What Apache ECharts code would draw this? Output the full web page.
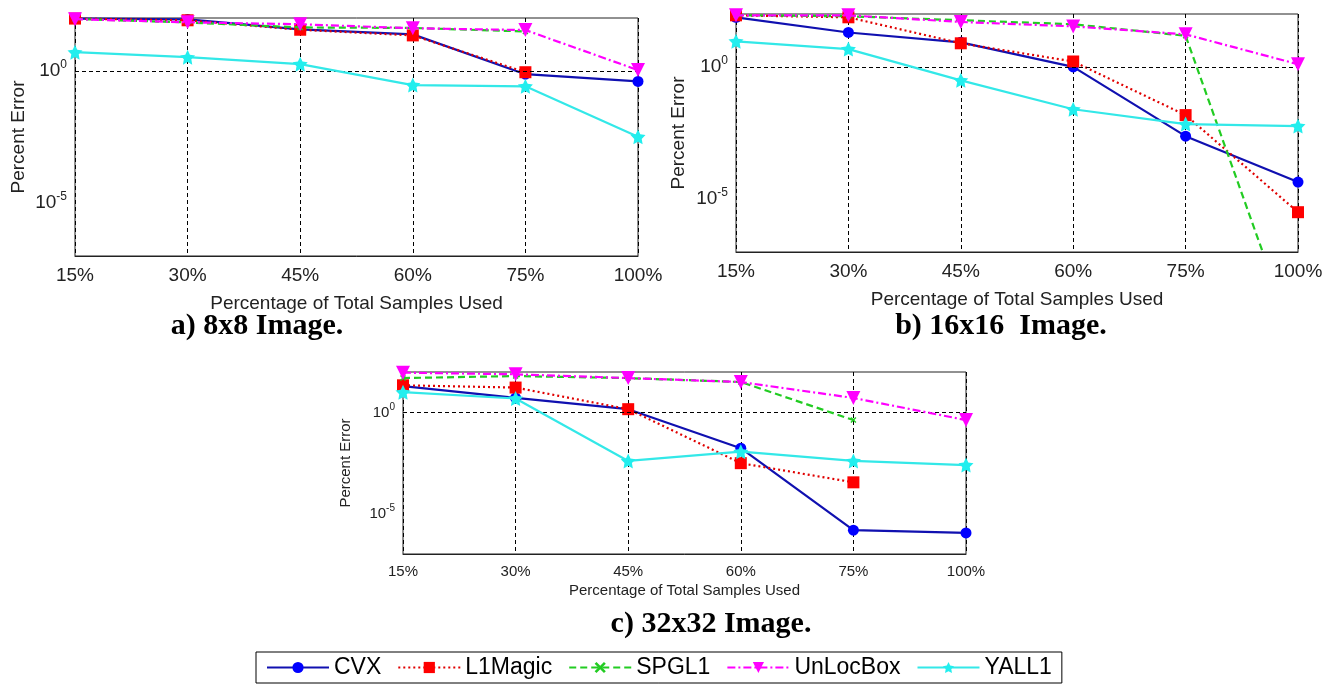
<!DOCTYPE html>
<html>
<head>
<meta charset="utf-8">
<script src="https://cdn.jsdelivr.net/npm/echarts@6/dist/echarts.min.js"></script>
<style>html,body{margin:0;padding:0;background:#fff;}#c{width:1333px;height:689px;}</style>
</head>
<body>
<div id="c"></div>
<script>
// ---- data ----
var categories = ['15%', '30%', '45%', '60%', '75%', '100%'];
var seriesNames = ['CVX', 'L1Magic', 'SPGL1', 'UnLocBox', 'YALL1'];
var panelTitles = ['a) 8x8 Image.', 'b) 16x16  Image.', 'c) 32x32 Image.'];
var xAxisName = 'Percentage of Total Samples Used';
var yAxisName = 'Percent Error';
var yTickExponents = [0, -5];

// panel a (8x8)
var cvxA   = [95, 88, 37, 24, 0.75, 0.40];
var l1A    = [95, 82, 36, 22, 0.89, null];
var spglA  = [92, 68, 44, 42, 31, null];
var unlocA = [90, 69, 58, 41, 35, 1.07];
var yallA  = [5.1, 3.3, 1.8, 0.29, 0.26, 0.0032];
// panel b (16x16)
var cvxB   = [75, 20, 8.5, 1.0, 0.0024, 4.4e-5];
var l1B    = [89, 75, 7.8, 1.6, 0.015, 3.2e-6];
var spglB  = [90, 82, 58, 41, 15, 1.8e-11];
var unlocB = [89, 89, 50, 34, 17, 1.26];
var yallB  = [9.3, 4.7, 0.31, 0.025, 0.0069, 0.0058];
// panel c (32x32)
var cvxC   = [20, 5.2, 1.45, 0.017, 1.5e-6, 1.1e-6];
var l1C    = [22, 17, 1.45, 0.0031, 3.5e-4, null];
var spglC  = [50, 63, 50, 32, 0.42, null];
var unlocC = [93, 77, 50, 32, 5.2, 0.42];
var yallC  = [10, 4.9, 0.004, 0.0115, 0.004, 0.0025];

var panelData = [
  [cvxA, l1A, spglA, unlocA, yallA],
  [cvxB, l1B, spglB, unlocB, yallB],
  [cvxC, l1C, spglC, unlocC, yallC]
];

// ---- styles ----
var STAR = 'path://M0,-10 L2.9,-4 L9.5,-3.1 L4.7,1.5 L5.9,8.1 L0,5 L-5.9,8.1 L-4.7,1.5 L-9.5,-3.1 L-2.9,-4 Z';
var XMARK = 'path://M-3,-2 L-2,-3 L0,-1 L2,-3 L3,-2 L1,0 L3,2 L2,3 L0,1 L-2,3 L-3,2 L-1,0 Z';
var styles = [
  {line: '#1010b0', mark: '#0000ff', type: 'solid', symbol: 'circle', size: 11, rot: 0},
  {line: '#e00000', mark: '#ff0000', type: [2, 3], symbol: 'rect', size: 12, rot: 0},
  {line: '#22cc22', mark: '#22cc22', type: [7, 4], symbol: XMARK, size: 6, rot: 0},
  {line: '#ff00ff', mark: '#ff00ff', type: [8, 3, 2, 3], symbol: 'triangle', size: 14, rot: 180},
  {line: '#33e8e8', mark: '#22eeee', type: 'solid', symbol: STAR, size: 15, rot: 0}
];

var grids = [
  {left: 75, top: 18, width: 563, height: 238},
  {left: 736, top: 14, width: 562, height: 238},
  {left: 403, top: 372, width: 563, height: 182}
];
var fonts = [
  {tick: 19, name: 19, sup: 12, gapX: 38, gapY: 47},
  {tick: 19, name: 19, sup: 12, gapX: 38, gapY: 48},
  {tick: 15, name: 15, sup: 10, gapX: 29, gapY: 50}
];

var FF = '"Liberation Sans", Arial, sans-serif';

var option = {
  backgroundColor: '#fff',
  animation: false,
  grid: [], xAxis: [], yAxis: [], series: [],
  title: [
    {text: panelTitles[0], left: 252, top: 306, textAlign: 'center'},
    {text: panelTitles[1], left: 996, top: 306, textAlign: 'center'},
    {text: panelTitles[2], left: 706, top: 604, textAlign: 'center'}
  ].map(function (t) {
    t.textStyle = {fontFamily: '"Liberation Serif", "Times New Roman", serif', fontWeight: 'bold', fontSize: 30, color: '#000'};
    return t;
  }),
  legend: {
    data: seriesNames,
    left: 256, top: 652,
    orient: 'horizontal',
    itemWidth: 62, itemHeight: 14, itemGap: 16,
    padding: [4, 10, 4, 10],
    borderColor: '#000', borderWidth: 1,
    textStyle: {fontFamily: FF, fontSize: 23, color: '#000'}
  }
};

grids.forEach(function (g, gi) {
  var f = fonts[gi];
  option.grid.push({left: g.left, top: g.top, width: g.width, height: g.height, show: true, borderColor: '#222', borderWidth: 1, containLabel: false});
  option.xAxis.push({
    type: 'category', gridIndex: gi, data: categories, boundaryGap: false,
    name: xAxisName, nameLocation: 'middle', nameGap: f.gapX,
    nameTextStyle: {fontFamily: FF, fontSize: f.name, color: '#222'},
    axisLine: {lineStyle: {color: '#222', width: 1}},
    axisTick: {show: false},
    axisLabel: {fontFamily: FF, fontSize: f.tick, color: '#222', margin: 10},
    splitLine: {show: true, lineStyle: {color: '#000', type: [4, 3], width: 1}}
  });
  option.yAxis.push({
    type: 'log', logBase: 10, gridIndex: gi, min: 1e-7, max: 1e2, interval: 1,
    name: yAxisName, nameLocation: 'middle', nameGap: f.gapY,
    nameTextStyle: {fontFamily: FF, fontSize: f.name, color: '#222'},
    axisLine: {lineStyle: {color: '#222', width: 1}},
    axisTick: {show: false},
    splitLine: {show: false},
    axisLabel: {
      fontFamily: FF, color: '#222', margin: 8,
      formatter: function (v) {
        var e = Math.round(Math.log10(v));
        if (yTickExponents.indexOf(e) >= 0 && Math.abs(Math.log10(v) - e) < 1e-6) {
          return '{b|10}{s|' + e + '}';
        }
        return '';
      },
      rich: {
        b: {fontFamily: FF, fontSize: f.tick, color: '#222'},
        s: {fontFamily: FF, fontSize: f.sup, color: '#222', padding: [0, 0, f.tick * 0.7, 0]}
      }
    }
  });
  panelData[gi].forEach(function (arr, si) {
    var st = styles[si];
    var s = {
      name: seriesNames[si], type: 'line', xAxisIndex: gi, yAxisIndex: gi,
      data: arr, clip: true, connectNulls: false,
      symbol: st.symbol, symbolSize: st.size, symbolRotate: st.rot, showAllSymbol: true,
      lineStyle: {color: st.line, width: 2.2, type: st.type},
      itemStyle: {color: st.mark, borderWidth: 0},
      emphasis: {disabled: true}, z: 3 + si
    };
    if (si === 0) {
      s.markLine = {
        silent: true, symbol: 'none', animation: false,
        label: {show: false},
        lineStyle: {color: '#000', type: [4, 3], width: 1},
        data: yTickExponents.map(function (e) { return {yAxis: Math.pow(10, e)}; })
      };
    }
    option.series.push(s);
  });
});

var chart = echarts.init(document.getElementById('c'), null, {renderer: 'canvas'});
chart.setOption(option);
</script>
</body>
</html>
